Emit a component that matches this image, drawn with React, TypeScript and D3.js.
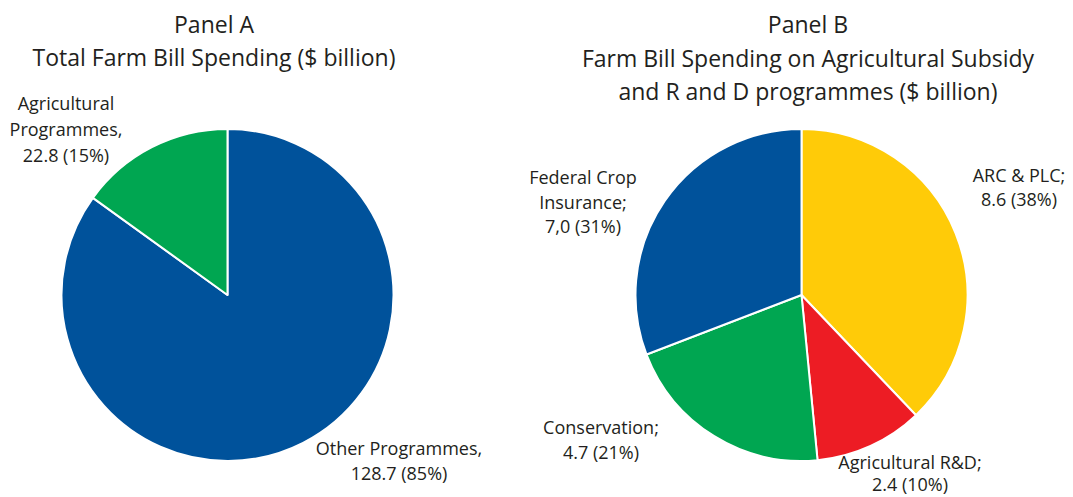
import React from "react";
import * as d3 from "d3";

const panelALabels = ["Other Programmes", "Agricultural Programmes"];
const panelAValues = [128.7, 22.8];
const panelAColors = ["#00529b", "#00a651"];

const panelBLabels = ["ARC & PLC", "Agricultural R&D", "Conservation", "Federal Crop Insurance"];
const panelBValues = [8.6, 2.4, 4.7, 7.0];
const panelBColors = ["#ffcb08", "#ed1c24", "#00a651", "#00529b"];

const panelATitle = ["Panel A", "Total Farm Bill Spending ($ billion)"];
const panelBTitle = ["Panel B", "Farm Bill Spending on Agricultural Subsidy", "and R and D programmes ($ billion)"];

const panelATexts = [
  { lines: ["Other Programmes,", "128.7 (85%)"], x: 399, y: 455, dy: 25 },
  { lines: ["Agricultural", "Programmes,", "22.8 (15%)"], x: 66, y: 110, dy: 26 },
];
const panelBTexts = [
  { lines: ["ARC & PLC;", "8.6 (38%)"], x: 1019, y: 182, dy: 24 },
  { lines: ["Agricultural R&D;", "2.4 (10%)"], x: 910, y: 469, dy: 22 },
  { lines: ["Conservation;", "4.7 (21%)"], x: 601, y: 434, dy: 25 },
  { lines: ["Federal Crop", "Insurance;", "7,0 (31%)"], x: 583, y: 184, dy: 24.5 },
];

const FONT = "'Open Sans', 'Noto Sans', sans-serif";
const TEXT = "#231f20";

function Pie({ values, colors, cx, cy, r }: { values: number[]; colors: string[]; cx: number; cy: number; r: number }) {
  const pie = d3.pie<number>().sort(null).value((d) => d);
  const arc = d3.arc<d3.PieArcDatum<number>>().innerRadius(0).outerRadius(r);
  const arcs = pie(values);
  return (
    <g transform={`translate(${cx},${cy})`}>
      {arcs.map((a, i) => (
        <path key={i} d={arc(a) || ""} fill={colors[i]} stroke="#fff" strokeWidth={2} strokeLinejoin="round" />
      ))}
    </g>
  );
}

function Title({ lines, x, y0, dy }: { lines: string[]; x: number; y0: number; dy: number }) {
  return (
    <g>
      {lines.map((l, i) => (
        <text key={i} x={x} y={y0 + i * dy} textAnchor="middle" fontFamily={FONT} fontSize={23} fill={TEXT}>
          {l}
        </text>
      ))}
    </g>
  );
}

function Label({ lines, x, y, dy }: { lines: string[]; x: number; y: number; dy: number }) {
  return (
    <text x={x} y={y} textAnchor="middle" fontFamily={FONT} fontSize={18} fill={TEXT}>
      {lines.map((l, i) => (
        <tspan key={i} x={x} dy={i === 0 ? 0 : dy}>
          {l}
        </tspan>
      ))}
    </text>
  );
}

export default function App() {
  return (
    <svg width={1073} height={497} style={{ position: "absolute", left: 0, top: 0, background: "#fff" }}>
      <rect width={1073} height={497} fill="#fff" />
      <Title lines={panelATitle} x={214} y0={33} dy={33} />
      <Title lines={panelBTitle} x={808} y0={33} dy={33.5} />
      <Pie values={panelAValues} colors={panelAColors} cx={227.5} cy={295} r={166} />
      <Pie values={panelBValues} colors={panelBColors} cx={801.5} cy={295} r={166} />
      {panelATexts.map((t, i) => (
        <Label key={"a" + i} lines={t.lines} x={t.x} y={t.y} dy={t.dy} />
      ))}
      {panelBTexts.map((t, i) => (
        <Label key={"b" + i} lines={t.lines} x={t.x} y={t.y} dy={t.dy} />
      ))}
    </svg>
  );
}
